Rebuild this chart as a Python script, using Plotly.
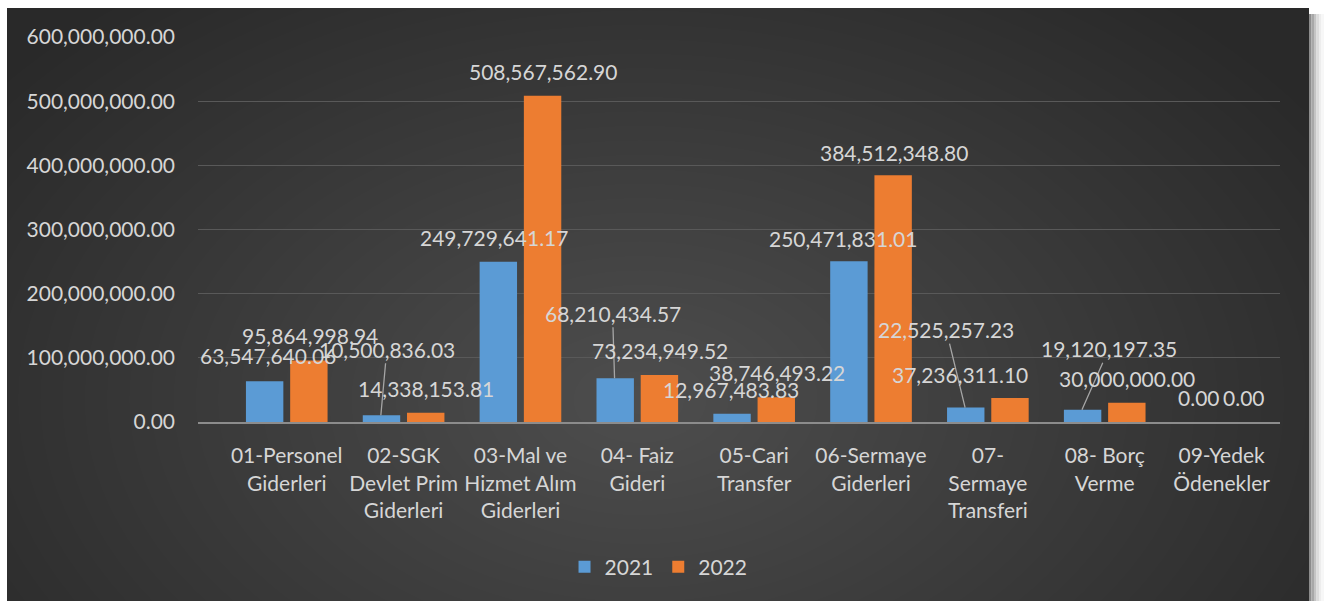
import plotly.graph_objects as go

W, H = 1325, 601

categories = [
    "01-Personel<br>Giderleri",
    "02-SGK<br>Devlet Prim<br>Giderleri",
    "03-Mal ve<br>Hizmet Alım<br>Giderleri",
    "04- Faiz<br>Gideri",
    "05-Cari<br>Transfer",
    "06-Sermaye<br>Giderleri",
    "07-<br>Sermaye<br>Transferi",
    "08- Borç<br>Verme",
    "09-Yedek<br>Ödenekler",
]
values_2021 = [63547640.06, 10500836.03, 249729641.17, 68210434.57, 12967483.83,
               250471831.01, 22525257.23, 19120197.35, 0.00]
values_2022 = [95864998.94, 14338153.81, 508567562.90, 73234949.52, 38746493.22,
               384512348.80, 37236311.10, 30000000.00, 0.00]
y_ticks = [0, 100000000, 200000000, 300000000, 400000000, 500000000, 600000000]

# label placement (pixel offsets from bar top; leader = draw a leader line)
off_2021 = [(4, -26, False), (6, -66, True), (-4, -24, False), (-2, -65, True), (0, -24, False),
            (-5, -23, False), (-19, -78, True), (27, -61, True), (0, -24, False)]
off_2022 = [(0, -25, False), (0, -24, False), (0, -24, False), (0, -25, False), (0, -25, False),
            (0, -23, False), (-51, -24, False), (0, -24, False), (0, -24, False)]

FONT = "Lato"
TXT = "#d6d6d6"
BLUE = "#5b9bd5"
ORANGE = "#ed7d31"

def px(x):
    return x / W

def py(y):
    return 1 - y / H

fig = go.Figure()
fig.add_trace(go.Bar(x=categories, y=values_2021, name="2021", marker=dict(color=BLUE, line=dict(width=0))))
fig.add_trace(go.Bar(x=categories, y=values_2022, name="2022", marker=dict(color=ORANGE, line=dict(width=0))))

shapes = []
# frame
shapes.append(dict(type="rect", xref="paper", yref="paper", x0=px(7), x1=px(1309), y0=py(601), y1=py(8),
                   fillcolor="#292929", line=dict(width=0), layer="below"))
# soft radial light
cx, cy, rx, ry = 640, 400, 800, 520
n = 36
for i in range(n):
    f = 1 - i / n
    shapes.append(dict(type="circle", xref="paper", yref="paper",
                       x0=px(cx - rx * f), x1=px(cx + rx * f), y0=py(cy + ry * f), y1=py(cy - ry * f),
                       fillcolor="rgba(255,255,255,0.0062)", line=dict(width=0), layer="below"))
# cover overflow outside the frame
shapes.append(dict(type="rect", xref="paper", yref="paper", x0=0, x1=px(7), y0=0, y1=1,
                   fillcolor="white", line=dict(width=0), layer="below"))
shapes.append(dict(type="rect", xref="paper", yref="paper", x0=0, x1=1, y0=py(8), y1=1,
                   fillcolor="white", line=dict(width=0), layer="below"))
shapes.append(dict(type="rect", xref="paper", yref="paper", x0=px(1309), x1=1, y0=0, y1=1,
                   fillcolor="white", line=dict(width=0), layer="below"))
# right shadow
for k, c in enumerate(["#8c8c8c", "#a8a8a8", "#c4c4c4", "#dcdcdc", "#ededed", "#f7f7f7"]):
    shapes.append(dict(type="rect", xref="paper", yref="paper", x0=px(1309 + 2.5 * k), x1=px(1311.5 + 2.5 * k),
                       y0=0, y1=py(14), fillcolor=c, line=dict(width=0), layer="below"))

annotations = []
for vals, offs, side in ((values_2021, off_2021, -22.75), (values_2022, off_2022, 22.75)):
    for c, v, (dx, dy, leader) in zip(categories, vals, offs):
        txt = f"{v:,.2f}"
        if leader:
            annotations.append(dict(x=c, y=v, xref="x", yref="y", xshift=side, text=txt,
                                    showarrow=True, ax=dx, ay=dy, axref="pixel", ayref="pixel",
                                    arrowhead=0, arrowwidth=1.3, arrowcolor="#a6a6a6", standoff=0,
                                    startstandoff=0, font=dict(family=FONT, size=21, color=TXT)))
        else:
            annotations.append(dict(x=c, y=v, xref="x", yref="y", xshift=side + dx, yshift=-dy,
                                    yanchor="middle", xanchor="center", text=txt, showarrow=False,
                                    font=dict(family=FONT, size=21, color=TXT)))

fig.update_layout(
    width=W, height=H,
    margin=dict(l=0, r=0, t=0, b=0, autoexpand=False),
    paper_bgcolor="white",
    plot_bgcolor="rgba(0,0,0,0)",
    barmode="group",
    bargap=0.243,
    bargroupgap=0.154,
    font=dict(family=FONT, size=21, color=TXT),
    shapes=shapes,
    annotations=annotations,
    showlegend=True,
    legend=dict(orientation="h", x=0.497, xanchor="center", y=py(567), yanchor="middle",
                font=dict(family=FONT, size=21, color=TXT), bgcolor="rgba(0,0,0,0)",
                itemwidth=30, traceorder="normal"),
    xaxis=dict(domain=[px(198), px(1280)], showgrid=False, showline=True, linecolor="#8c8c8c",
               linewidth=2, ticks="", tickfont=dict(family=FONT, size=21, color=TXT),
               ticklabelstandoff=14, zeroline=False),
    yaxis=dict(domain=[py(422), py(37)], range=[0, 600000000], tickvals=y_ticks,
               ticktext=[f"{t:,.2f}" for t in y_ticks], showgrid=True, gridcolor="#595959",
               gridwidth=1.3, zeroline=False, showline=False, ticks="",
               tickfont=dict(family=FONT, size=21, color=TXT), ticklabelstandoff=22),
)

fig.write_html("out.html", config={"displayModeBar": False},
               post_script="document.body.style.margin='0';document.body.style.overflow='hidden';")
